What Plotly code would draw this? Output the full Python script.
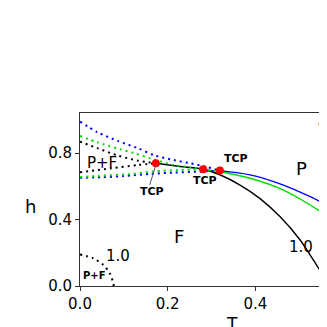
import plotly.graph_objects as go

# solid transition lines (T, h)
black_T = [0.173, 0.228, 0.281, 0.319, 0.365, 0.41, 0.456, 0.502, 0.532, 0.555, 0.5615]
black_h = [0.739, 0.72, 0.703, 0.67, 0.608, 0.528, 0.418, 0.277, 0.157, 0.056, 0.0]
green_T = [0.281, 0.32, 0.388, 0.464, 0.525, 0.565]
green_h = [0.703, 0.688, 0.649, 0.578, 0.488, 0.418]
blue_T = [0.319, 0.388, 0.464, 0.525, 0.565]
blue_h = [0.695, 0.669, 0.608, 0.538, 0.485]

# dotted P+F boundaries
blue_up_T = [0.0, 0.04, 0.087, 0.132, 0.17, 0.213, 0.251, 0.289, 0.319]
blue_up_h = [0.99, 0.926, 0.873, 0.83, 0.787, 0.759, 0.739, 0.717, 0.695]
blue_lo_T = [0.0, 0.05, 0.1, 0.16, 0.213, 0.266, 0.319]
blue_lo_h = [0.652, 0.655, 0.662, 0.675, 0.683, 0.689, 0.695]
green_up_T = [0.0, 0.04, 0.09, 0.13, 0.16, 0.213, 0.251, 0.281]
green_up_h = [0.904, 0.865, 0.825, 0.795, 0.769, 0.729, 0.715, 0.703]
green_lo_T = [0.0, 0.041, 0.11, 0.166, 0.228, 0.281]
green_lo_h = [0.655, 0.663, 0.673, 0.69, 0.699, 0.703]
black_up_T = [0.0, 0.041, 0.087, 0.132, 0.173]
black_up_h = [0.87, 0.829, 0.785, 0.755, 0.739]
black_lo_T = [0.0, 0.071, 0.132, 0.173]
black_lo_h = [0.685, 0.709, 0.729, 0.739]
small_T = [0.0, 0.03, 0.053, 0.068, 0.076, 0.077]
small_h = [0.19, 0.167, 0.127, 0.076, 0.016, 0.0]

# tricritical points
tcp_T = [0.173, 0.281, 0.319]
tcp_h = [0.739, 0.703, 0.695]

FONT = "DejaVu Sans"
DOT = "2px,4px"

fig = go.Figure()


def add_line(x, y, color, dash=None, width=1.4, spline=True):
    fig.add_trace(go.Scatter(
        x=x, y=y, mode='lines',
        line=dict(color=color, width=width, dash=dash,
                  shape='spline' if spline else 'linear', smoothing=0.8),
        showlegend=False, hoverinfo='skip'
    ))


add_line(black_T, black_h, 'black')
add_line(green_T, green_h, '#00dd00')
add_line(blue_T, blue_h, '#0000ff')

add_line(blue_up_T, blue_up_h, '#0000ff', DOT, 2)
add_line(blue_lo_T, blue_lo_h, '#0000ff', DOT, 2)
add_line(green_up_T, green_up_h, '#00dd00', DOT, 2)
add_line(green_lo_T, green_lo_h, '#00dd00', DOT, 2)
add_line(black_up_T, black_up_h, 'black', DOT, 2)
add_line(black_lo_T, black_lo_h, 'black', DOT, 2)
add_line(small_T, small_h, 'black', DOT, 2)

fig.add_trace(go.Scatter(
    x=tcp_T, y=tcp_h, mode='markers',
    marker=dict(color='red', size=8),
    showlegend=False, hoverinfo='skip'
))

labels = [
    (0.050, 0.741, "P+F", 15, False),
    (0.226, 0.298, "F", 18, False),
    (0.505, 0.709, "P", 18, False),
    (0.505, 0.232, "1.0", 15, False),
    (0.087, 0.180, "1.0", 15, False),
    (0.032, 0.063, "P+F", 10, True),
    (0.285, 0.634, "TCP", 11, True),
    (0.356, 0.769, "TCP", 11, True),
]
for x, y, txt, size, bold in labels:
    fig.add_annotation(x=x, y=y, text=f"<b>{txt}</b>" if bold else txt,
                       showarrow=False, font=dict(family=FONT, size=size, color='black'))

# first TCP label with pointer line
fig.add_annotation(x=tcp_T[0], y=tcp_h[0] - 0.01, ax=0.158, ay=0.6, axref='x', ayref='y',
                   text="", showarrow=True, arrowhead=0, arrowwidth=1, arrowcolor='#555')
fig.add_annotation(x=0.164, y=0.567, text="<b>TCP</b>", showarrow=False,
                   font=dict(family=FONT, size=11, color='black'))

fig.add_annotation(x=0.538, y=0.982, text="d", xanchor='left', showarrow=False,
                   font=dict(family=FONT, size=14, color='black'))

# axis titles
fig.add_annotation(x=-0.231, y=0.476, xref='paper', yref='y', text="h", showarrow=False,
                   font=dict(family=FONT, size=18, color='black'))
fig.add_annotation(x=0.346, y=-0.15, xref='x', yref='paper', yanchor='top', text="T",
                   showarrow=False, font=dict(family=FONT, size=17, color='black'))

# page body adds an 8px offset, so the figure is sized 319 to fill the 327 window
fig.update_layout(
    width=319, height=319,
    margin=dict(l=72, r=0, t=105, b=41),
    plot_bgcolor='white', paper_bgcolor='white',
    showlegend=False,
    xaxis=dict(range=[0, 0.5633], tickvals=[0, 0.2, 0.4], tickformat='.1f',
               showgrid=False, zeroline=False, showline=True, mirror=True,
               linecolor='#333', linewidth=1, ticks='outside', ticklen=4,
               tickcolor='#333', tickfont=dict(family=FONT, size=15, color='black')),
    yaxis=dict(range=[0, 1.042], tickvals=[0, 0.4, 0.8], tickformat='.1f',
               showgrid=False, zeroline=False, showline=True, mirror=False,
               linecolor='#333', linewidth=1, ticks='outside', ticklen=4,
               tickcolor='#333', tickfont=dict(family=FONT, size=15, color='black')),
)

fig.write_html("out.html")
